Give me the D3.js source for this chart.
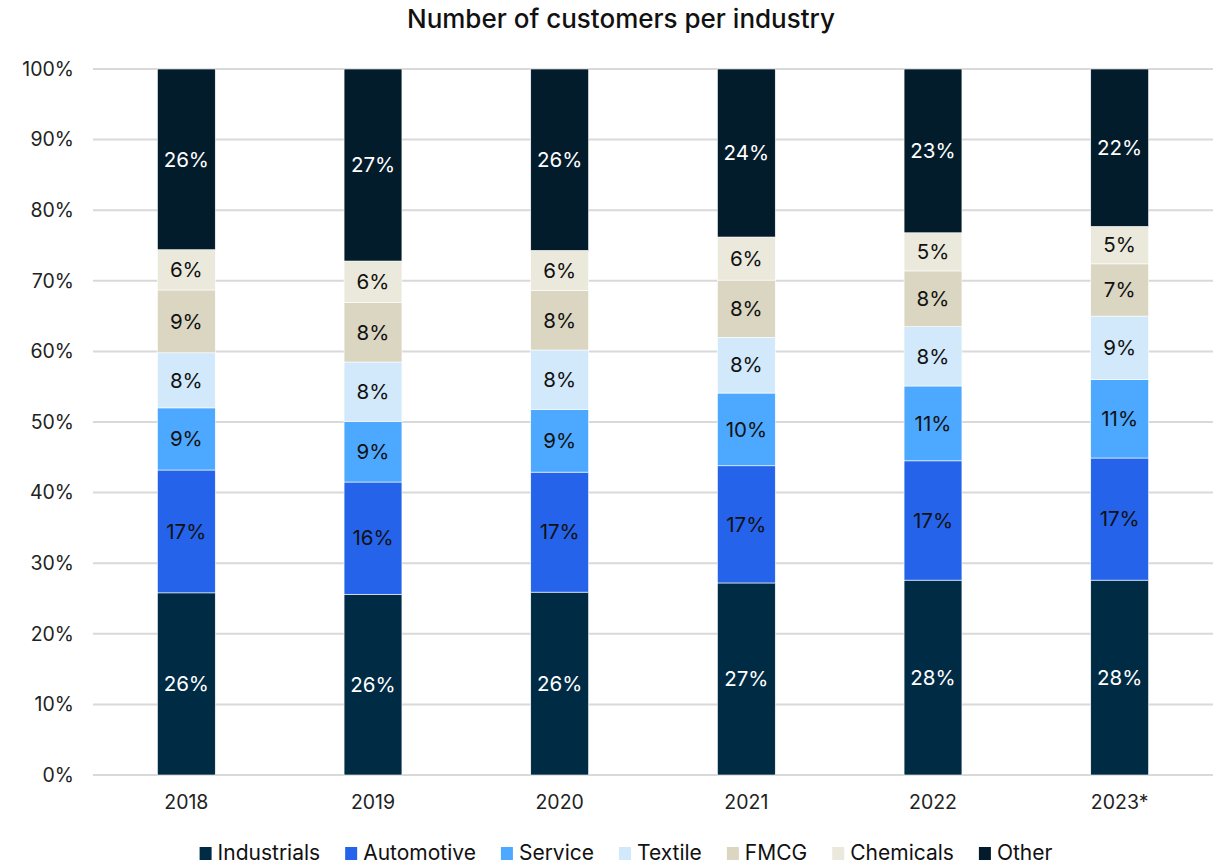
<!DOCTYPE html>
<html>
<head>
<meta charset="utf-8">
<script src="https://cdn.jsdelivr.net/npm/d3@7"></script>
<style>
    body { margin: 0; background: #fff; }
    text { font-family: Inter, "Noto Sans", sans-serif; }
</style>
</head>
<body>
<div class="container"></div>
<script>
// chart data (percent of customers)
var years = ["2018", "2019", "2020", "2021", "2022", "2023*"];
var industries = ["Industrials", "Automotive", "Service", "Textile", "FMCG", "Chemicals", "Other"];
var industrials = [25.8, 25.6, 25.9, 27.2, 27.6, 27.6];
var automotive  = [17.4, 15.9, 17.0, 16.6, 16.9, 17.3];
var service     = [8.8, 8.6, 8.9, 10.3, 10.6, 11.1];
var textile     = [7.8, 8.4, 8.4, 7.9, 8.4, 9.0];
var fmcg        = [8.9, 8.4, 8.4, 8.1, 7.9, 7.4];
var chemicals   = [5.7, 5.9, 5.7, 6.1, 5.4, 5.3];
var other       = [25.6, 27.2, 25.7, 23.8, 23.2, 22.3];
var yTicks = [0, 10, 20, 30, 40, 50, 60, 70, 80, 90, 100];

var colors = ["#002b45", "#2563eb", "#4da8ff", "#d2e9fc", "#dad6c1", "#ebe9dc", "#031c2b"];
var lightText = ["Industrials", "Other"];

function drawChart() {
    var margin = { top: 69, right: 10, bottom: 89, left: 93 }
        , width = 1223 - margin.left - margin.right
        , height = 864 - margin.top - margin.bottom;

    var series = [industrials, automotive, service, textile, fmcg, chemicals, other];
    var rows = years.map(function (yr, i) {
        var row = { year: yr };
        industries.forEach(function (k, j) { row[k] = series[j][i]; });
        return row;
    });

    var stacked = d3.stack().keys(industries)(rows);

    var svg = d3.select(".container").append("svg")
        .attr("width", 1223)
        .attr("height", 864);

    svg.append("text")
        .attr("x", 621)
        .attr("y", 28)
        .attr("text-anchor", "middle")
        .attr("font-size", 26)
        .attr("font-weight", 500)
        .attr("fill", "#111")
        .text("Number of customers per industry");

    var g = svg.append("g")
        .attr("transform", "translate(" + margin.left + "," + margin.top + ")");

    var x = d3.scaleBand()
        .domain(years)
        .range([0, width])
        .paddingInner(0.69)
        .paddingOuter(0.345);

    var y = d3.scaleLinear()
        .domain([0, 100])
        .range([height, 0]);

    // gridlines
    g.append("g")
        .selectAll("line")
        .data(yTicks)
        .enter()
        .append("line")
        .attr("x1", 0)
        .attr("x2", width)
        .attr("y1", function (d) { return y(d); })
        .attr("y2", function (d) { return y(d); })
        .attr("stroke", "#d9d9d9")
        .attr("stroke-width", 2);

    var yAxis = g.append("g")
        .call(d3.axisLeft(y).tickValues(yTicks).tickSize(0).tickPadding(19)
            .tickFormat(function (d) { return d + "%"; }));
    yAxis.select(".domain").remove();
    yAxis.selectAll("text")
        .attr("font-size", 19.5)
        .attr("fill", "#222")
        .style("font-family", "Inter, 'Noto Sans', sans-serif");

    var xAxis = g.append("g")
        .attr("transform", "translate(0," + height + ")")
        .call(d3.axisBottom(x).tickSize(0).tickPadding(20));
    xAxis.select(".domain").remove();
    xAxis.selectAll("text")
        .attr("font-size", 19.5)
        .attr("fill", "#222")
        .style("font-family", "Inter, 'Noto Sans', sans-serif");

    var layers = g.append("g")
        .selectAll("g")
        .data(stacked)
        .enter()
        .append("g")
        .attr("fill", function (d, i) { return colors[i]; });

    layers.selectAll("rect")
        .data(function (d) { return d; })
        .enter()
        .append("rect")
        .attr("x", function (d) { return x(d.data.year); })
        .attr("width", x.bandwidth())
        .attr("y", function (d) { return y(d[1]); })
        .attr("height", function (d) { return y(d[0]) - y(d[1]); })
        .attr("stroke", "#fff")
        .attr("stroke-width", 0.6);

    layers.selectAll("text")
        .data(function (d) { return d.map(function (p) { p.key = d.key; return p; }); })
        .enter()
        .append("text")
        .attr("x", function (d) { return x(d.data.year) + x.bandwidth() / 2; })
        .attr("y", function (d) { return (y(d[0]) + y(d[1])) / 2; })
        .attr("dy", "0.35em")
        .attr("text-anchor", "middle")
        .attr("font-size", 20.5)
        .attr("fill", function (d) { return lightText.indexOf(d.key) >= 0 ? "#fff" : "#111"; })
        .text(function (d) { return Math.round(d[1] - d[0]) + "%"; });

    // legend
    var legend = svg.append("g").attr("transform", "translate(0,860)");
    var items = legend.selectAll("g")
        .data(industries)
        .enter()
        .append("g");
    items.append("rect")
        .attr("y", -13)
        .attr("width", 12)
        .attr("height", 13)
        .attr("fill", function (d, i) { return colors[i]; });
    items.append("text")
        .attr("x", 18)
        .attr("font-size", 21)
        .attr("fill", "#111")
        .text(function (d) { return d; });

    var pos = 0, offsets = [];
    items.each(function () {
        offsets.push(pos);
        pos += 18 + d3.select(this).select("text").node().getComputedTextLength() + 25;
    });
    var total = pos - 25;
    var start = 626 - total / 2;
    items.attr("transform", function (d, i) { return "translate(" + (start + offsets[i]) + ",0)"; });
}

drawChart();
</script>
</body>
</html>
